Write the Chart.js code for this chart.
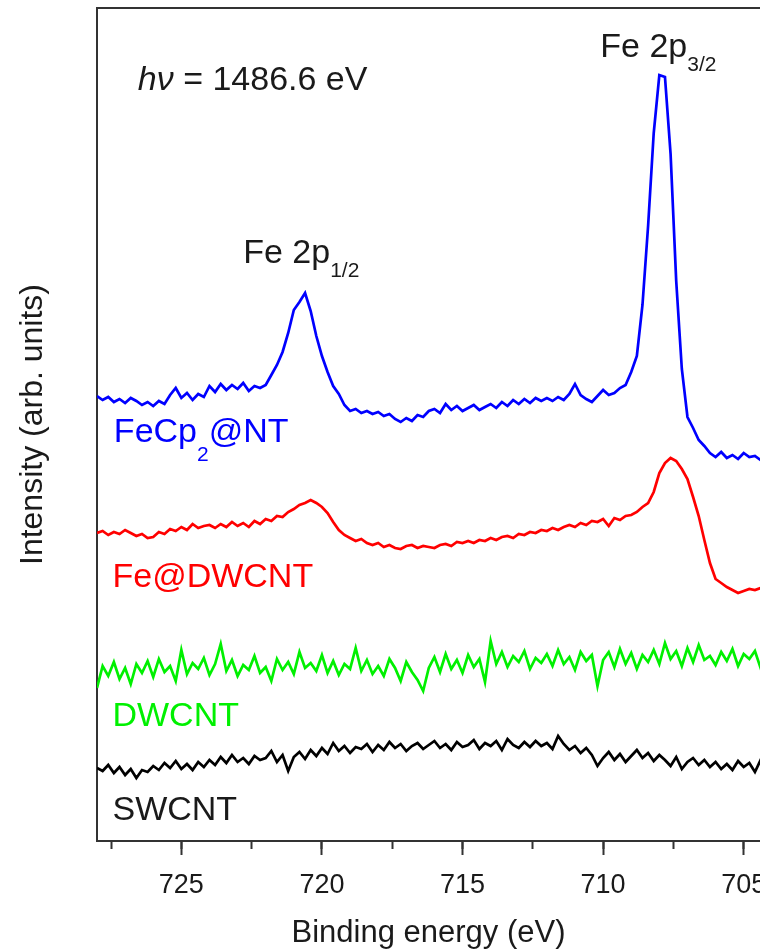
<!DOCTYPE html>
<html>
<head>
<meta charset="utf-8">
<script src="https://cdn.jsdelivr.net/npm/chart.js@4.4.1/dist/chart.umd.min.js"></script>
<style>
  html, body { margin: 0; background: #fff; }
  #wrap { width: 760px; height: 952px; position: relative; }
</style>
</head>
<body>
<div id="wrap"><canvas id="c"></canvas></div>
<script>
// binding energy grid (eV), shared by all four spectra
const energy = [
  728.0, 727.8, 727.6, 727.4, 727.2, 727.0, 726.8, 726.6, 726.4, 726.2,
  726.0, 725.8, 725.6, 725.4, 725.2, 725.0, 724.8, 724.6, 724.4, 724.2,
  724.0, 723.8, 723.6, 723.4, 723.2, 723.0, 722.8, 722.6, 722.4, 722.2,
  722.0, 721.8, 721.6, 721.4, 721.2, 721.0, 720.8, 720.6, 720.4, 720.2,
  720.0, 719.8, 719.6, 719.4, 719.2, 719.0, 718.8, 718.6, 718.4, 718.2,
  718.0, 717.8, 717.6, 717.4, 717.2, 717.0, 716.8, 716.6, 716.4, 716.2,
  716.0, 715.8, 715.6, 715.4, 715.2, 715.0, 714.8, 714.6, 714.4, 714.2,
  714.0, 713.8, 713.6, 713.4, 713.2, 713.0, 712.8, 712.6, 712.4, 712.2,
  712.0, 711.8, 711.6, 711.4, 711.2, 711.0, 710.8, 710.6, 710.4, 710.2,
  710.0, 709.8, 709.6, 709.4, 709.2, 709.0, 708.8, 708.6, 708.4, 708.2,
  708.0, 707.8, 707.6, 707.4, 707.2, 707.0, 706.8, 706.6, 706.4, 706.2,
  706.0, 705.8, 705.6, 705.4, 705.2, 705.0, 704.8, 704.6, 704.4, 704.2
];

// intensities (arb. units, curves already offset)
const feCp2NT = [
  445, 441, 444, 439, 442, 438, 443, 440, 436, 439,
  435, 440, 437, 446, 453, 443, 448, 441, 447, 444,
  455, 449, 457, 451, 456, 452, 458, 450, 455, 453,
  456, 466, 476, 489, 508, 531, 539, 548, 530, 505,
  485, 469, 455, 447, 436, 430, 432, 428, 430, 427,
  429, 425, 427, 422, 419, 423, 420, 426, 424, 430,
  432, 428, 437, 431, 435, 430, 433, 436, 431, 434,
  437, 433, 439, 435, 441, 437, 442, 438, 443, 440,
  443, 440, 444, 441, 447, 457, 446, 442, 439, 445,
  451, 446, 448, 453, 456, 469, 485, 536, 615, 708,
  766, 764, 687, 560, 472, 424, 413, 401, 395, 388,
  384, 389, 383, 386, 382, 388, 384, 385, 381, 384
];
const feDWCNT = [
  308, 310, 306, 309, 307, 311, 308, 305, 307, 303,
  304, 309, 307, 312, 310, 314, 311, 317, 313, 315,
  316, 313, 317, 314, 319, 315, 318, 314, 320, 317,
  322, 320, 325, 324, 329, 332, 336, 338, 341, 338,
  334, 328, 319, 311, 306, 303, 300, 302, 298, 296,
  298, 294, 296, 293, 292, 295, 296, 293, 295, 294,
  293, 296, 297, 295, 299, 298, 300, 298, 301, 300,
  303, 301, 304, 305, 303, 307, 306, 309, 308, 311,
  310, 313, 311, 314, 316, 314, 318, 316, 320, 319,
  322, 315, 323, 321, 325, 326, 329, 334, 338, 349,
  368, 378, 383, 380, 372, 362, 344, 325, 301, 278,
  262, 258, 254, 251, 248, 250, 252, 251, 253, 252
];
const dwcnt = [
  153, 175, 165, 179, 162, 173, 157, 177, 168, 180,
  164, 182, 169, 175, 160, 191, 167, 178, 172, 183,
  166, 177, 197, 170, 181, 165, 176, 171, 185, 168,
  174, 160, 182, 171, 179, 167, 189, 173, 178, 170,
  186, 168, 180, 166, 177, 172, 193, 170, 181, 167,
  175, 165, 182, 173, 160, 179, 169, 161, 150, 173,
  184, 169, 187, 172, 181, 168, 186, 174, 182, 159,
  200, 177, 189, 174, 185, 179, 190, 172, 183, 178,
  187, 175, 191, 177, 184, 171, 189, 180, 186, 155,
  181, 189, 174, 192, 177, 188, 172, 186, 179, 191,
  177, 198, 182, 190, 175, 193, 179, 196, 181, 185,
  176, 189, 180, 192, 175, 187, 182, 190, 173, 184
];
const swcnt = [
  73, 70, 76, 68, 74, 66, 72, 63, 71, 69,
  75, 71, 78, 73, 80, 72, 77, 71, 79, 74,
  81, 76, 84, 78, 86, 79, 83, 77, 85, 81,
  83, 90, 79, 86, 70, 84, 89, 82, 91, 85,
  93, 87, 98, 90, 95, 88, 94, 92, 97, 89,
  96, 91, 99, 93, 97, 90, 95, 98, 92, 96,
  100, 93, 97, 91, 99, 94, 96, 101, 92, 98,
  95, 100, 91, 102, 96, 93, 99, 94, 100, 95,
  98, 92, 105, 97, 91, 95, 88, 93, 86, 75,
  83, 89, 81, 87, 79, 85, 91, 83, 88, 80,
  86, 81, 75, 84, 72, 79, 83, 76, 81, 74,
  79, 72, 77, 71, 80, 74, 78, 69, 81, 75
];

const majorTicks = [725, 720, 715, 710, 705];
const minorTicks = [727.5, 725, 722.5, 720, 717.5, 715, 712.5, 710, 707.5, 705];

const FONT = "'Liberation Sans', Arial, Helvetica, sans-serif";
const INK = '#1a1a1a';

const series = [
  { data: feCp2NT, color: '#0000ff' },
  { data: feDWCNT, color: '#ff0000' },
  { data: dwcnt, color: '#00f000' },
  { data: swcnt, color: '#000000' }
];

// text notes placed in data coordinates; parts: n normal, i italic, s subscript
const notes = [
  { x: 726.55, y: 751, size: 34, color: INK, parts: [['h', 'i'], ['\u03BD', 'i'], [' = 1486.6 eV', 'n']] },
  { x: 722.8, y: 578, size: 34, sub: 21, drop: 14, color: INK, parts: [['Fe 2p', 'n'], ['1/2', 's']] },
  { x: 710.1, y: 784, size: 34, sub: 21, drop: 14, color: INK, parts: [['Fe 2p', 'n'], ['3/2', 's']] },
  { x: 727.4, y: 399, size: 34, sub: 21, drop: 19, color: '#0000ff', parts: [['FeCp', 'n'], ['2', 's'], ['@NT', 'n']] },
  { x: 727.45, y: 254, size: 34, color: '#ff0000', parts: [['Fe@DWCNT', 'n']] },
  { x: 727.45, y: 115, size: 34, color: '#00f000', parts: [['DWCNT', 'n']] },
  { x: 727.45, y: 21, size: 34, color: INK, parts: [['SWCNT', 'n']] }
];

const notePlugin = {
  id: 'notes',
  afterDatasetsDraw(chart) {
    const { ctx, scales: { x, y } } = chart;
    ctx.save();
    ctx.textAlign = 'left';
    ctx.textBaseline = 'alphabetic';
    notes.forEach(n => {
      let px = x.getPixelForValue(n.x);
      const py = y.getPixelForValue(n.y);
      ctx.fillStyle = n.color;
      n.parts.forEach(([t, k]) => {
        const sub = k === 's';
        ctx.font = (k === 'i' ? 'italic ' : '') + (sub ? n.sub : n.size) + 'px ' + FONT;
        ctx.fillText(t, px, py + (sub ? n.drop : 0));
        px += ctx.measureText(t).width;
      });
    });
    ctx.restore();
  }
};

Chart.defaults.font.family = FONT;
Chart.defaults.color = INK;

new Chart(document.getElementById('c'), {
  type: 'line',
  data: {
    datasets: series.map(s => ({
      data: energy.map((e, i) => ({ x: e, y: s.data[i] })),
      borderColor: s.color,
      borderWidth: 2.7,
      pointRadius: 0,
      tension: 0,
      fill: false
    }))
  },
  options: {
    responsive: true, maintainAspectRatio: false, animation: false,
    layout: { padding: { top: 8, right: 0, bottom: 0, left: 0 } },
    plugins: { legend: { display: false }, tooltip: { enabled: false } },
    scales: {
      x: {
        type: 'linear', reverse: true, min: 704.42, max: 728, position: 'bottom',
        afterBuildTicks: s => { s.ticks = majorTicks.map(v => ({ value: v })); },
        afterFit: s => { s.height = 111; s.paddingLeft = 0; s.paddingRight = 0; },
        grid: { drawOnChartArea: false, tickLength: 14, tickWidth: 2, tickColor: '#333' },
        border: { color: '#333', width: 2 },
        ticks: { font: { size: 27 }, padding: 14, maxRotation: 0, autoSkip: false, color: INK },
        title: { display: true, text: 'Binding energy (eV)', font: { size: 31 }, color: INK, padding: { top: 0, bottom: 0 } }
      },
      xMinor: {
        axis: 'x', type: 'linear', reverse: true, min: 704.42, max: 728, position: { y: 0 },
        afterBuildTicks: s => { s.ticks = minorTicks.map(v => ({ value: v })); },
        grid: { drawOnChartArea: false, tickLength: 8, tickWidth: 2, tickColor: '#333' },
        border: { display: false },
        ticks: { display: false }
      },
      xTop: {
        axis: 'x', type: 'linear', position: 'top', min: 704.42, max: 728,
        afterFit: s => { s.height = 0; s.paddingLeft = 0; s.paddingRight = 0; },
        grid: { display: false, drawTicks: false },
        border: { color: '#333', width: 2 },
        ticks: { display: false }
      },
      y: {
        type: 'linear', min: 0, max: 833,
        afterFit: s => { s.width = 97; },
        grid: { display: false },
        border: { color: '#333', width: 2 },
        ticks: { display: false },
        title: { display: true, text: 'Intensity (arb. units)', font: { size: 32 }, color: INK, padding: { top: 14, bottom: 0 } }
      }
    }
  },
  plugins: [notePlugin]
});
</script>
</body>
</html>
